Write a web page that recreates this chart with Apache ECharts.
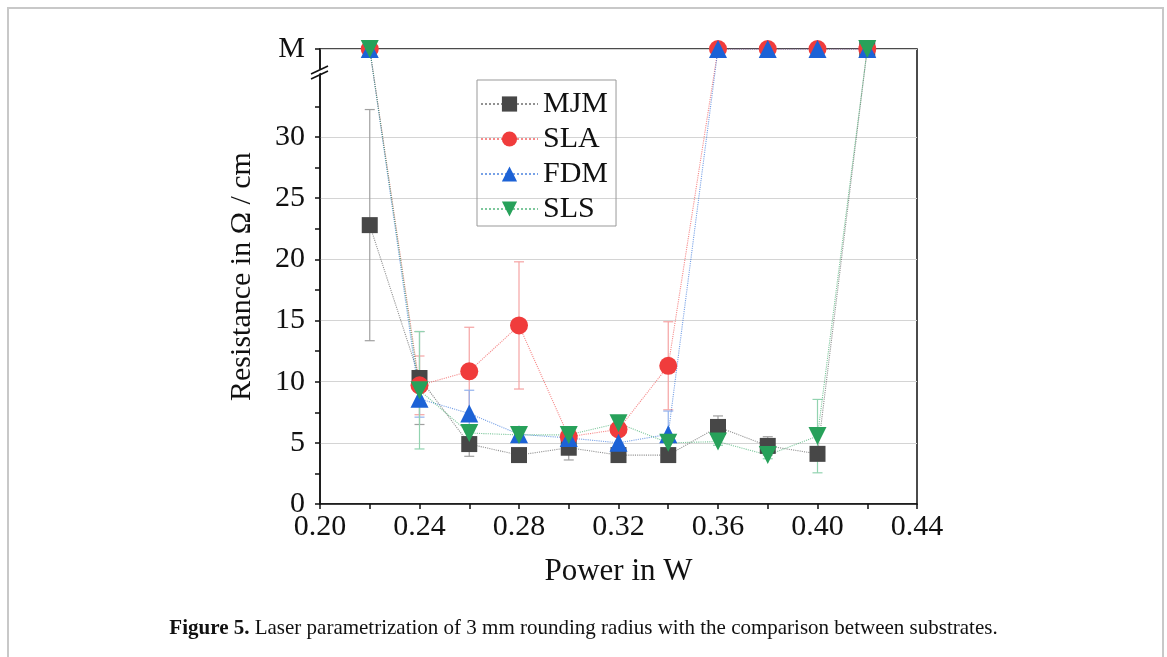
<!DOCTYPE html>
<html>
<head>
<meta charset="utf-8">
<script src="https://cdn.jsdelivr.net/npm/echarts@6/dist/echarts.min.js"></script>
<style>
  html, body { margin: 0; padding: 0; background: #fff; }
  #chart { width: 1167px; height: 657px; }
</style>
</head>
<body>
<div id="chart"></div>
<script>
// "M" = measurement off scale, drawn above the axis break
var M = 37.2;
var powers = [0.22, 0.24, 0.26, 0.28, 0.30, 0.32, 0.34, 0.36, 0.38, 0.40, 0.42];

var mjm    = [22.8, 10.3, 4.9, 4.0, 4.6, 4.0, 4.0, 6.3, 4.75, 4.1, M];
var mjmErr = [9.45, 3.8, 1.0, 0.3, 1.0, 0.6, 0.3, 0.9, 0.75, 0.3, 0];
var sla    = [M, 9.7, 10.85, 14.6, 5.5, 6.1, 11.3, M, M, M, M];
var slaErr = [0, 2.4, 3.6, 5.2, 0.5, 0.5, 3.6, 0, 0, 0, 0];
var fdm    = [M, 8.6, 7.4, 5.7, 5.4, 5.0, 5.7, M, M, M, M];
var fdmErr = [0, 1.5, 1.9, 0.5, 0.5, 1.6, 1.9, 0, 0, 0, 0];
var sls    = [M, 9.3, 5.8, 5.65, 5.65, 6.6, 5.0, 5.1, 4.0, 5.55, M];
var slsErr = [0, 4.8, 0.4, 0.4, 0.4, 0.4, 0.5, 0.3, 0.3, 3.0, 0];

var yLabels = [0, 5, 10, 15, 20, 25, 30, M];
var yMinor = [2.5, 7.5, 12.5, 17.5, 22.5, 27.5, 32.5];

var font = 'Liberation Serif';

function lineSeries(name, vals, color, symbol, size) {
  return {
    name: name,
    type: 'line',
    z: 3,
    data: powers.map(function (p, i) { return [p, vals[i]]; }),
    symbol: symbol,
    symbolSize: size,
    itemStyle: { color: color },
    lineStyle: { type: 'dotted', width: 1.1, color: color, opacity: 0.6 }
  };
}

function errorBars(name, vals, errs, color) {
  var d = [];
  powers.forEach(function (p, i) {
    if (errs[i] > 0) d.push([p, vals[i] - errs[i], vals[i] + errs[i]]);
  });
  return {
    name: name + ' err',
    type: 'custom',
    z: 2,
    silent: true,
    data: d,
    renderItem: function (params, api) {
      var lo = api.coord([api.value(0), api.value(1)]);
      var hi = api.coord([api.value(0), api.value(2)]);
      var w = 5;
      var st = { stroke: color, lineWidth: 1.2 };
      return {
        type: 'group',
        children: [
          { type: 'line', shape: { x1: lo[0], y1: lo[1], x2: hi[0], y2: hi[1] }, style: st },
          { type: 'line', shape: { x1: lo[0] - w, y1: lo[1], x2: lo[0] + w, y2: lo[1] }, style: st },
          { type: 'line', shape: { x1: hi[0] - w, y1: hi[1], x2: hi[0] + w, y2: hi[1] }, style: st }
        ]
      };
    }
  };
}

var chart = echarts.init(document.getElementById('chart'));

var option = {
  backgroundColor: '#fff',
  animation: false,
  textStyle: { fontFamily: font },
  title: {
    left: 'center',
    top: 613,
    text: '{b|Figure 5.} Laser parametrization of 3 mm rounding radius with the comparison between substrates.',
    textStyle: {
      fontFamily: font, fontSize: 21, fontWeight: 'normal', color: '#111',
      rich: { b: { fontFamily: font, fontSize: 21, fontWeight: 'bold', color: '#111' } }
    }
  },
  grid: {
    left: 320, right: 250, top: 49, bottom: 153,
    show: true, borderColor: '#111', borderWidth: 1.5
  },
  legend: {
    orient: 'vertical',
    left: 477, top: 80,
    data: ['MJM', 'SLA', 'FDM', 'SLS'],
    itemWidth: 57, itemHeight: 19, itemGap: 5,
    padding: [9, 8, 2, 3],
    borderColor: '#999', borderWidth: 1,
    textStyle: { fontFamily: font, fontSize: 30, color: '#111' }
  },
  xAxis: {
    type: 'value',
    min: 0.2, max: 0.44, interval: 0.04,
    name: 'Power in W',
    nameLocation: 'middle',
    nameGap: 52,
    nameTextStyle: { fontFamily: font, fontSize: 31, color: '#111' },
    axisLine: { lineStyle: { color: '#111', width: 1.5 } },
    axisTick: { length: 5, lineStyle: { color: '#111', width: 1.5 } },
    minorTick: { show: true, splitNumber: 2, length: 5, lineStyle: { color: '#111', width: 1.5 } },
    axisLabel: {
      margin: 8, fontFamily: font, fontSize: 30, color: '#111',
      formatter: function (v) { return v.toFixed(2); }
    },
    splitLine: { show: false }
  },
  yAxis: [{
    type: 'value',
    min: 0, max: M,
    name: 'Resistance in Ω / cm',
    nameLocation: 'middle',
    nameGap: 63,
    nameTextStyle: { fontFamily: font, fontSize: 30, color: '#111' },
    axisLine: { show: true, lineStyle: { color: '#111', width: 1.5 } },
    axisTick: { show: true, length: 5, customValues: yLabels, lineStyle: { color: '#111', width: 1.5 } },
    axisLabel: {
      margin: 15, fontFamily: font, fontSize: 30, color: '#111',
      customValues: yLabels,
      formatter: function (v) { return v > 35 ? 'M' : String(v); }
    },
    splitLine: { show: true, lineStyle: { color: '#d4d4d4', width: 1.2 } }
  }, {
    type: 'value',
    position: 'left',
    min: 0, max: M,
    axisLine: { show: false },
    axisTick: { show: true, length: 5, customValues: yMinor, lineStyle: { color: '#111', width: 1.5 } },
    axisLabel: { show: false },
    splitLine: { show: false }
  }],
  graphic: [
    {
      type: 'rect', silent: true,
      shape: { x: 8, y: 8, width: 1155, height: 700 },
      style: { fill: 'none', stroke: '#c8c8c8', lineWidth: 2 }
    },
    {
      type: 'polygon', silent: true, z: 100,
      shape: { points: [[314, 76], [326, 70.5], [326, 66.5], [314, 72]] },
      style: { fill: '#fff' }
    },
    {
      type: 'line', silent: true, z: 101,
      shape: { x1: 311, y1: 79, x2: 328, y2: 71 },
      style: { stroke: '#111', lineWidth: 1.5 }
    },
    {
      type: 'line', silent: true, z: 101,
      shape: { x1: 311, y1: 74, x2: 328, y2: 66 },
      style: { stroke: '#111', lineWidth: 1.5 }
    }
  ],
  series: [
    lineSeries('MJM', mjm, '#474747', 'rect', 16),
    lineSeries('SLA', sla, '#f03c3c', 'circle', 18),
    lineSeries('FDM', fdm, '#1c62d6', 'triangle', 18),
    lineSeries('SLS', sls, '#27a15a', 'path://M0,0 L10,0 L5,9 Z', 18),
    errorBars('MJM', mjm, mjmErr, '#a0a0a0'),
    errorBars('SLA', sla, slaErr, '#f5a3a3'),
    errorBars('FDM', fdm, fdmErr, '#93b3ee'),
    errorBars('SLS', sls, slsErr, '#92d3b0')
  ]
};

option && chart.setOption(option);
</script>
</body>
</html>
